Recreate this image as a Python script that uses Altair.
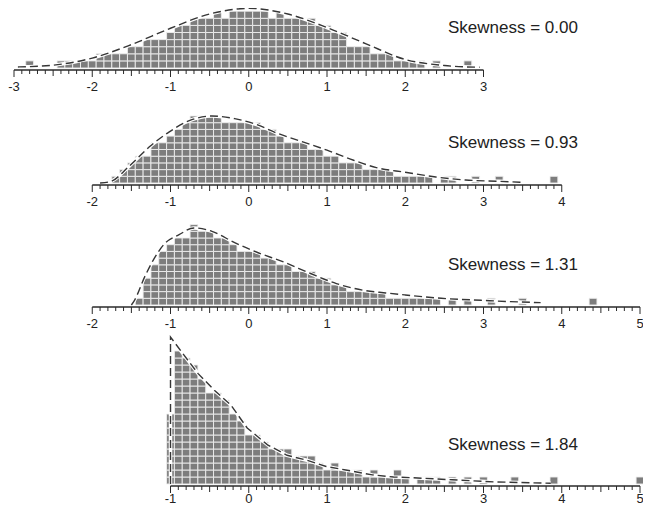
import altair as alt
import pandas as pd
import numpy as np

BIN = 0.1

# ---- Panel data: counts per 0.1-wide bin (bin centres start at *_lo) ----
p1_lo = -3.0
p1_counts = [0, 0, 1, 0, 0, 0, 1, 1, 1, 1,
             1, 2, 2, 2, 2, 3, 3, 4, 4, 4,
             5, 6, 6, 7, 7, 7, 8, 7, 8, 8,
             8, 8, 8, 7, 8, 7, 7, 7, 7, 6,
             6, 5, 5, 3, 3, 3, 2, 2, 2, 1,
             1, 1, 1, 0, 1, 0, 0, 0, 1, 0, 0]
p1_curve_x = [-2.95, -2.5, -2.0, -1.5, -1.0, -0.5, 0.0, 0.5, 1.0, 1.5, 2.0, 2.5, 2.95]
p1_curve_y = [0.15, 0.4, 1.4, 3.3, 5.6, 7.6, 8.4, 7.6, 5.7, 3.4, 1.2, 0.35, 0.1]

p2_lo = -2.0
p2_counts = [0, 0, 0, 1, 2, 3, 4, 4, 6, 6,
             7, 8, 9, 10, 10, 10, 10, 9, 9, 9,
             9, 9, 8, 8, 7, 6, 6, 6, 5, 5,
             4, 4, 3, 3, 3, 2, 2, 2, 2, 1,
             1, 1, 1, 1, 0, 1, 1, 0, 0, 1,
             0, 0, 1, 0, 0, 0, 0, 0, 0, 1, 0]
p2_curve_x = [-1.9, -1.77, -1.52, -1.27, -1.02, -0.76, -0.47, -0.18, 0.08, 0.37,
              0.7, 1.0, 1.34, 1.63, 2.0, 2.39, 2.77, 3.19, 3.5]
p2_curve_y = [0.0, 0.2, 2.6, 5.4, 7.6, 9.3, 10.0, 9.6, 8.8, 7.4,
              6.1, 4.9, 3.4, 2.3, 1.6, 0.9, 0.45, 0.25, 0.1]

p3_lo = -2.0
p3_counts = [0, 0, 0, 0, 0, 0, 1, 4, 6, 8,
             9, 10, 10, 12, 11, 11, 10, 10, 9, 8,
             8, 8, 7, 7, 6, 6, 5, 5, 5, 4,
             4, 3, 3, 2, 2, 2, 2, 2, 1, 1,
             1, 1, 1, 1, 1, 0, 1, 0, 1, 0,
             0, 1, 0, 0, 0, 1, 0, 0, 0, 0,
             0, 0, 0, 0, 1, 0, 0, 0, 0, 0, 0]
p3_curve_x = [-1.5, -1.46, -1.33, -1.2, -1.08, -0.89, -0.7, -0.47, -0.18, 0.12,
              0.45, 0.79, 1.12, 1.46, 1.75, 2.0, 2.46, 2.97, 3.35, 3.73]
p3_curve_y = [0.0, 0.7, 4.2, 7.1, 9.1, 10.5, 11.5, 11.0, 9.3, 7.8,
              6.4, 4.7, 3.2, 2.2, 1.8, 1.5, 1.0, 0.7, 0.5, 0.35]

p4_lo = -1.0
p4_counts = [10, 19, 18, 17, 15, 13, 13, 12, 10, 9,
             7, 7, 6, 5, 5, 5, 4, 4, 4, 3,
             2, 3, 2, 2, 2, 1, 2, 1, 1, 2,
             1, 0, 1, 1, 1, 0, 1, 0, 1, 0,
             1, 0, 0, 0, 1, 0, 0, 0, 0, 1,
             0, 0, 0, 0, 0, 0, 0, 0, 0, 0, 1]
p4_curve_x = [-1.0, -1.0, -0.86, -0.65, -0.44, -0.23, -0.02, 0.24, 0.49, 0.74,
              0.99, 1.24, 1.58, 1.85, 2.09, 2.6, 3.14, 3.86]
p4_curve_y = [0.0, 21.0, 18.9, 15.8, 13.4, 11.3, 8.0, 5.6, 4.1, 3.4,
              2.5, 2.0, 1.3, 1.0, 0.9, 0.6, 0.3, 0.1]

skew_labels = ["Skewness = 0.00", "Skewness = 0.93", "Skewness = 1.31", "Skewness = 1.84"]
axis_ranges = [(-3, 3), (-2, 4), (-2, 5), (-1, 5)]

# ---- style / layout (pixels inside the plot area) ----
SQ_FILL = "#7d7d7d"
SQ_EDGE = "#eeeeee"
LINE_COL = "#363636"
AX_COL = "#2a2a2a"
FONT = "Liberation Sans"
W, H = 629, 498
X_SCALE = alt.Scale(domain=[-3, 5], range=[0, 626], nice=False, zero=False)

# baseline (px), px per stacked square, label offset, text y, curve interpolation
panel_layout = [
    (60, 7.1, 19, 20, "monotone"),
    (175, 6.7, 19, 135, "monotone"),
    (297, 6.7, 19, 257, "monotone"),
    (476, 7.0, 15, 437, "linear"),
]


def panel(lo, counts, cx, cy, ax, label, layout):
    base, rowpx, lab_off, text_y, interp = layout
    ys = alt.Scale(domain=[0, 10], range=[base, base - 10 * rowpx], nice=False, zero=False)
    rows = []
    for i, n in enumerate(counts):
        c = lo + i * BIN
        for k in range(n):
            rows.append({"x0": c - BIN / 2, "x1": c + BIN / 2, "y0": k, "y1": k + 1})
    sq = pd.DataFrame(rows)
    squares = alt.Chart(sq).mark_rect(fill=SQ_FILL, stroke=SQ_EDGE, strokeWidth=0.9).encode(
        x=alt.X("x0:Q", scale=X_SCALE, axis=None),
        x2="x1:Q",
        y=alt.Y("y0:Q", scale=ys, axis=None),
        y2="y1:Q",
    )
    cdf = pd.DataFrame({"x": cx, "y": cy, "i": list(range(len(cx)))})
    enc = dict(x=alt.X("x:Q", scale=X_SCALE, axis=None),
               y=alt.Y("y:Q", scale=ys, axis=None),
               order=alt.Order("i:Q"))
    halo = alt.Chart(cdf).mark_line(color="white", strokeWidth=3.5, interpolate=interp).encode(**enc)
    curve = alt.Chart(cdf).mark_line(color=LINE_COL, strokeWidth=1.4, strokeDash=[8, 4],
                                     interpolate=interp).encode(**enc)

    a_lo, a_hi = ax
    ticks = np.round(np.arange(a_lo, a_hi + 1e-9, 0.1), 2)
    kind = ["major" if abs(t - round(t)) < 1e-6 else ("half" if abs(t * 2 - round(t * 2)) < 1e-6 else "minor")
            for t in ticks]
    tdf = pd.DataFrame({"t": ticks, "kind": kind})
    tick_layers = []
    for k, ln in [("minor", 4), ("half", 6), ("major", 7)]:
        tick_layers.append(
            alt.Chart(tdf).transform_filter(alt.datum.kind == k).mark_rule(color=AX_COL, strokeWidth=1).encode(
                x=alt.X("t:Q", scale=X_SCALE, axis=None),
                y=alt.value(base + 2), y2=alt.value(base + 2 + ln))
        )
    adf = pd.DataFrame({"lo": [a_lo], "hi": [a_hi]})
    axis_line = alt.Chart(adf).mark_rule(color=AX_COL, strokeWidth=1.3).encode(
        x=alt.X("lo:Q", scale=X_SCALE, axis=None), x2="hi:Q", y=alt.value(base + 2))
    ints = list(range(a_lo, a_hi + 1))
    ldf = pd.DataFrame({"v": ints, "lab": [str(v) for v in ints]})
    labels = alt.Chart(ldf).mark_text(font=FONT, fontSize=13, color="#222222", baseline="middle").encode(
        x=alt.X("v:Q", scale=X_SCALE, axis=None), y=alt.value(base + lab_off), text="lab:N")
    sdf = pd.DataFrame({"s": [label]})
    skew = alt.Chart(sdf).mark_text(font=FONT, fontSize=17, color="#222222", align="left",
                                    baseline="middle").encode(
        x=alt.value(434), y=alt.value(text_y), text="s:N")
    return [squares, halo, curve, axis_line] + tick_layers + [labels, skew]


layers = []
layers += panel(p1_lo, p1_counts, p1_curve_x, p1_curve_y, axis_ranges[0], skew_labels[0], panel_layout[0])
layers += panel(p2_lo, p2_counts, p2_curve_x, p2_curve_y, axis_ranges[1], skew_labels[1], panel_layout[1])
layers += panel(p3_lo, p3_counts, p3_curve_x, p3_curve_y, axis_ranges[2], skew_labels[2], panel_layout[2])
layers += panel(p4_lo, p4_counts, p4_curve_x, p4_curve_y, axis_ranges[3], skew_labels[3], panel_layout[3])

chart = alt.layer(*layers).resolve_scale(y="independent").properties(
    width=W, height=H,
    autosize=alt.AutoSizeParams(type="none"),
    padding={"left": 6, "right": 0, "top": 0, "bottom": 0},
    background="white",
).configure_view(stroke=None)

chart.save("out.html", embed_options={"renderer": "svg", "actions": False})
